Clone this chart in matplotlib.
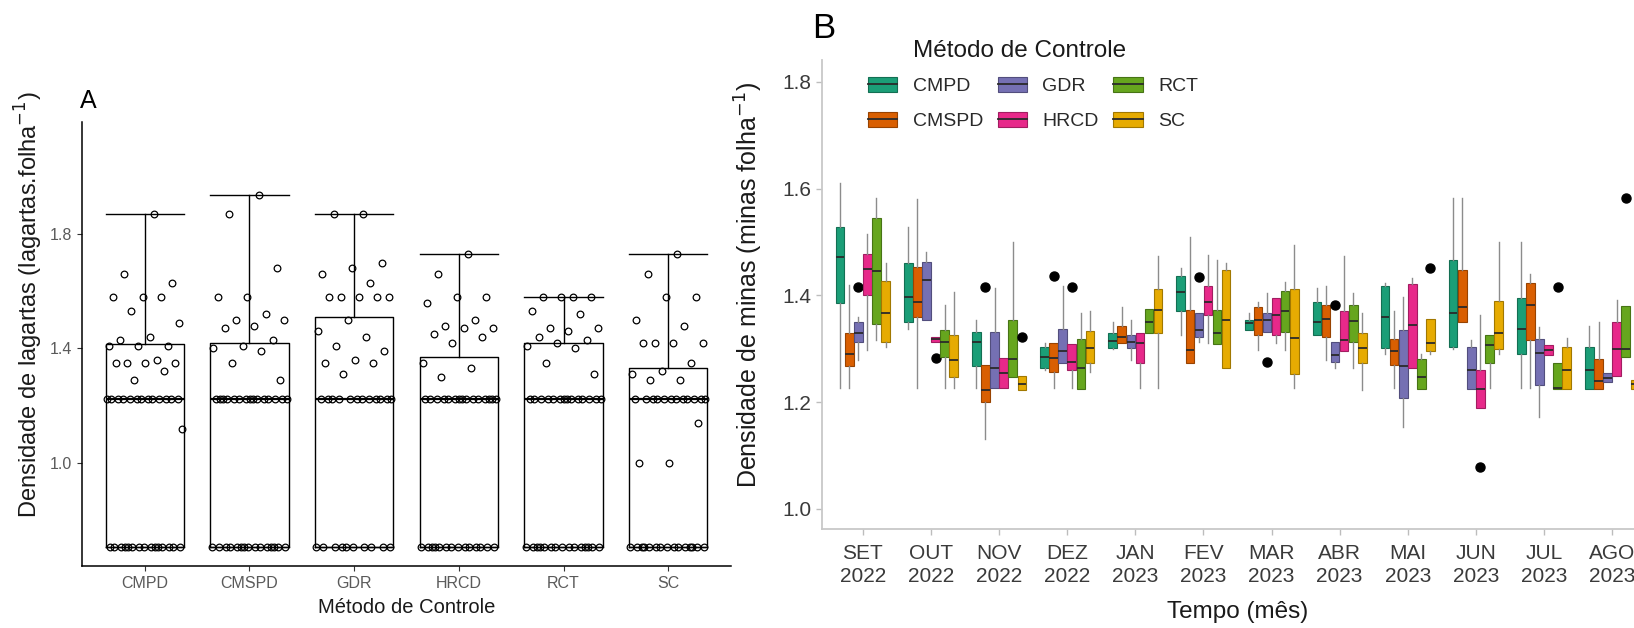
import numpy as np
import matplotlib
matplotlib.use("Agg")
import matplotlib.pyplot as plt
from matplotlib.patches import Patch
from matplotlib.lines import Line2D
from matplotlib.colors import to_rgb

plt.rcParams['font.family'] = ['Liberation Sans', 'DejaVu Sans']

# ---------------- painel A: densidade de lagartas ----------------
metodos = ["CMPD", "CMSPD", "GDR", "HRCD", "RCT", "SC"]
a_q1 = [0.707, 0.707, 0.707, 0.707, 0.707, 0.707]
a_med = [1.2247, 1.2247, 1.2247, 1.2247, 1.2247, 1.2247]
a_q3 = [1.414, 1.42, 1.51, 1.37, 1.42, 1.33]
a_max = [1.87, 1.936, 1.87, 1.73, 1.58, 1.73]

pts_cmpd = [1.87, 1.66, 1.63, 1.58, 1.58, 1.58, 1.53, 1.49, 1.44, 1.43, 1.41, 1.41, 1.41,
            1.36, 1.35, 1.35, 1.35, 1.35, 1.32, 1.29, 1.12] + [1.2247] * 13 + [0.707] * 15
pts_cmspd = [1.936, 1.87, 1.68, 1.58, 1.58, 1.52, 1.50, 1.50, 1.48, 1.47, 1.43, 1.41,
             1.40, 1.39, 1.35, 1.29] + [1.2247] * 15 + [0.707] * 15
pts_gdr = [1.87, 1.87, 1.70, 1.68, 1.66, 1.63, 1.58, 1.58, 1.58, 1.58, 1.58, 1.50, 1.46,
           1.44, 1.41, 1.39, 1.36, 1.35, 1.35, 1.31] + [1.2247] * 12 + [0.707] * 10
pts_hrcd = [1.73, 1.66, 1.58, 1.58, 1.56, 1.50, 1.48, 1.47, 1.47, 1.45, 1.44, 1.42, 1.35,
            1.33, 1.30] + [1.2247] * 15 + [0.707] * 14
pts_rct = [1.58, 1.58, 1.58, 1.58, 1.53, 1.52, 1.47, 1.47, 1.46, 1.44, 1.43, 1.42, 1.41,
           1.40, 1.35, 1.31] + [1.2247] * 14 + [0.707] * 15
pts_sc = [1.73, 1.66, 1.58, 1.58, 1.50, 1.48, 1.42, 1.42, 1.42, 1.42, 1.35, 1.32, 1.31,
          1.29, 1.29, 1.14, 1.00, 1.00] + [1.2247] * 12 + [0.707] * 15
a_pontos = [pts_cmpd, pts_cmspd, pts_gdr, pts_hrcd, pts_rct, pts_sc]

# ---------------- painel B: densidade de minas por mes ----------------
meses = ["SET\n2022", "OUT\n2022", "NOV\n2022", "DEZ\n2022", "JAN\n2023", "FEV\n2023",
         "MAR\n2023", "ABR\n2023", "MAI\n2023", "JUN\n2023", "JUL\n2023", "AGO\n2023"]
cores = ["#1B9E77", "#D95F02", "#7570B3", "#E7298A", "#66A61E", "#E6AB02"]

# (whislo, q1, med, q3, whishi) por mes
b_cmpd = [(1.226, 1.385, 1.472, 1.529, 1.610), (1.338, 1.351, 1.398, 1.460, 1.529),
          (1.226, 1.268, 1.313, 1.332, 1.354), (1.260, 1.265, 1.284, 1.304, 1.310),
          (1.300, 1.302, 1.315, 1.329, 1.351), (1.326, 1.370, 1.407, 1.437, 1.451),
          (1.335, 1.335, 1.348, 1.354, 1.367), (1.325, 1.325, 1.351, 1.387, 1.414),
          (1.290, 1.301, 1.359, 1.418, 1.423), (1.300, 1.304, 1.367, 1.467, 1.582),
          (1.226, 1.290, 1.337, 1.395, 1.501), (1.224, 1.224, 1.260, 1.303, 1.342)]
b_cmspd = [(1.226, 1.267, 1.290, 1.330, 1.420), (1.226, 1.360, 1.388, 1.454, 1.580),
           (1.132, 1.201, 1.223, 1.270, 1.270), (1.226, 1.257, 1.282, 1.310, 1.310),
           (1.310, 1.310, 1.323, 1.343, 1.379), (1.273, 1.273, 1.298, 1.372, 1.510),
           (1.298, 1.326, 1.354, 1.378, 1.388), (1.279, 1.323, 1.355, 1.382, 1.417),
           (1.226, 1.270, 1.295, 1.318, 1.370), (1.351, 1.351, 1.379, 1.447, 1.582),
           (1.226, 1.317, 1.382, 1.423, 1.441), (1.224, 1.224, 1.240, 1.280, 1.351)]
b_gdr = [(1.279, 1.313, 1.329, 1.351, 1.360), (1.354, 1.354, 1.429, 1.463, 1.482),
         (1.226, 1.226, 1.265, 1.332, 1.413), (1.273, 1.273, 1.295, 1.337, 1.417),
         (1.279, 1.301, 1.313, 1.326, 1.354), (1.313, 1.323, 1.335, 1.367, 1.367),
         (1.332, 1.332, 1.354, 1.367, 1.404), (1.264, 1.276, 1.289, 1.313, 1.313),
         (1.154, 1.207, 1.268, 1.335, 1.398), (1.224, 1.224, 1.260, 1.304, 1.317),
         (1.173, 1.232, 1.292, 1.318, 1.340), (1.238, 1.238, 1.245, 1.255, 1.255)]
b_hrcd = [(1.298, 1.401, 1.450, 1.478, 1.516), (1.313, 1.313, 1.318, 1.323, 1.323),
          (1.226, 1.226, 1.255, 1.282, 1.282), (1.226, 1.260, 1.276, 1.309, 1.309),
          (1.226, 1.273, 1.310, 1.329, 1.329), (1.310, 1.364, 1.388, 1.417, 1.476),
          (1.310, 1.326, 1.364, 1.396, 1.396), (1.295, 1.295, 1.317, 1.370, 1.473),
          (1.264, 1.264, 1.345, 1.421, 1.432), (1.189, 1.189, 1.224, 1.260, 1.364),
          (1.289, 1.289, 1.298, 1.307, 1.307), (1.249, 1.249, 1.299, 1.351, 1.392)]
b_rct = [(1.317, 1.347, 1.445, 1.545, 1.582), (1.226, 1.284, 1.313, 1.335, 1.382),
         (1.248, 1.248, 1.280, 1.354, 1.501), (1.224, 1.224, 1.264, 1.318, 1.367),
         (1.329, 1.329, 1.351, 1.374, 1.374), (1.309, 1.309, 1.329, 1.373, 1.467),
         (1.298, 1.332, 1.370, 1.408, 1.426), (1.265, 1.312, 1.353, 1.382, 1.404),
         (1.224, 1.224, 1.248, 1.280, 1.290), (1.226, 1.274, 1.307, 1.326, 1.326),
         (1.224, 1.224, 1.226, 1.273, 1.273), (1.284, 1.284, 1.299, 1.380, 1.380)]
b_sc = [(1.304, 1.312, 1.367, 1.427, 1.460), (1.226, 1.248, 1.279, 1.326, 1.407),
        (1.223, 1.223, 1.235, 1.249, 1.249), (1.257, 1.273, 1.301, 1.334, 1.370),
        (1.226, 1.329, 1.373, 1.412, 1.473), (1.264, 1.264, 1.354, 1.447, 1.460),
        (1.226, 1.253, 1.321, 1.412, 1.495), (1.223, 1.274, 1.301, 1.329, 1.367),
        (1.290, 1.295, 1.310, 1.355, 1.355), (1.290, 1.300, 1.329, 1.390, 1.501),
        (1.224, 1.224, 1.260, 1.304, 1.320), (1.224, 1.224, 1.235, 1.242, 1.242)]
b_stats = [b_cmpd, b_cmspd, b_gdr, b_hrcd, b_rct, b_sc]

out_metodo = ["GDR", "HRCD", "CMSPD", "SC", "CMSPD", "HRCD", "GDR", "GDR", "GDR", "SC", "HRCD", "RCT", "RCT"]
out_mes = [0, 1, 2, 2, 3, 3, 5, 6, 7, 8, 9, 10, 11]
out_valor = [1.415, 1.282, 1.415, 1.323, 1.437, 1.415, 1.435, 1.275, 1.383, 1.451, 1.079, 1.415, 1.582]


def escurecer(c, f=0.7):
    r, g, b = to_rgb(c)
    return (r * f, g * f, b * f)


fig = plt.figure(figsize=(16.34, 6.28), dpi=100)
W, H = 1634, 628

# ---------- A ----------
axA = fig.add_axes([82 / W, (H - 566) / H, (731 - 82) / W, (566 - 122) / H])
statsA = []
for i in range(len(metodos)):
    statsA.append(dict(whislo=a_q1[i], q1=a_q1[i], med=a_med[i], q3=a_q3[i],
                       whishi=a_max[i], fliers=[]))
axA.bxp(statsA, positions=range(len(metodos)), widths=0.75, capwidths=0.75,
        showfliers=False, manage_ticks=False,
        boxprops=dict(color="black", lw=1.0), whiskerprops=dict(color="black", lw=1.0),
        capprops=dict(color="black", lw=1.0), medianprops=dict(color="black", lw=1.6))
for i, pts in enumerate(a_pontos):
    k = np.arange(len(pts)) + 1
    dx = ((k * 0.6180339887) % 1 - 0.5) * 0.74
    axA.plot(i + dx, pts, "o", mfc="none", mec="black", ms=4.8, mew=0.9, zorder=3)

axA.set_xlim(-0.6, 5.6)
axA.set_ylim(0.640, 2.191)
axA.set_yticks([1.0, 1.4, 1.8])
axA.set_xticks(range(len(metodos)))
axA.set_xticklabels(metodos)
axA.tick_params(labelsize=11.5, labelcolor="#5a5a5a", color="#333333", length=3.5, width=0.8)
for s in ["top", "right"]:
    axA.spines[s].set_visible(False)
for s in ["left", "bottom"]:
    axA.spines[s].set_linewidth(1.1)
axA.set_xlabel("Método de Controle", fontsize=14.5, color="#1a1a1a", labelpad=5)
axA.set_ylabel("Densidade de lagartas (lagartas.folha$^{-1}$)", fontsize=17, color="#1a1a1a")
axA.yaxis.set_label_coords(-0.057, 0.588)
fig.text(80 / W, 1 - 108 / H, "A", fontsize=18, va="baseline", ha="left")

# ---------- B ----------
axB = fig.add_axes([822 / W, (H - 529) / H, (1653 - 822) / W, (529 - 60) / H])
n_met = len(metodos)
for j in range(n_met):
    st = []
    for m in range(len(meses)):
        lo, q1, med, q3, hi = b_stats[j][m]
        fl = [v for v, mm, mt in zip(out_valor, out_mes, out_metodo) if mm == m and mt == metodos[j]]
        st.append(dict(whislo=lo, q1=q1, med=med, q3=q3, whishi=hi, fliers=fl))
    pos = np.arange(len(meses)) + (j - (n_met - 1) / 2) * 0.8 / n_met
    axB.bxp(st, positions=pos, widths=0.125, patch_artist=True, showcaps=False,
            manage_ticks=False,
            boxprops=dict(facecolor=cores[j], edgecolor=escurecer(cores[j]), lw=0.8),
            whiskerprops=dict(color="#8c8c8c", lw=1.0),
            medianprops=dict(color="#2a2a2a", lw=1.3),
            flierprops=dict(marker="o", mfc="black", mec="black", ms=6.5))

axB.set_xlim(-0.6, 11.6)
axB.set_ylim(0.9625, 1.841)
axB.set_yticks([1.0, 1.2, 1.4, 1.6, 1.8])
axB.set_xticks(range(len(meses)))
axB.set_xticklabels(meses, linespacing=1.25)
axB.tick_params(labelsize=15, labelcolor="#3a3a3a", color="#bdbdbd", length=4, width=1.0)
axB.tick_params(axis="x", pad=7)
for s in ["top", "right"]:
    axB.spines[s].set_visible(False)
for s in ["left", "bottom"]:
    axB.spines[s].set_color("#c8c8c8")
    axB.spines[s].set_linewidth(1.3)
axB.set_xlabel("Tempo (mês)", fontsize=17.5, color="#1a1a1a", labelpad=11)
axB.set_ylabel("Densidade de minas (minas folha$^{-1}$)", fontsize=18, color="#1a1a1a")
axB.yaxis.set_label_coords(-0.069, 0.52)
fig.text(812 / W, 1 - 38 / H, "B", fontsize=25, va="baseline", ha="left")

# legenda (titulo separado para controlar o espaçamento)
fig.text(1020 / W, 1 - 57 / H, "Método de Controle", fontsize=17.5, color="#1a1a1a",
         ha="center", va="baseline")
handles = [(Patch(facecolor=c, edgecolor=escurecer(c), lw=0.8), Line2D([], [], color="#2a2a2a", lw=1.3))
           for c in cores]
leg = axB.legend(handles, metodos, ncol=3, frameon=False,
                 loc="upper left", bbox_to_anchor=(868 / W, 1 - 77 / H),
                 bbox_transform=fig.transFigure, borderpad=0, borderaxespad=0,
                 fontsize=14, handlelength=1.5, handleheight=0.8,
                 handletextpad=0.8, columnspacing=0.75, labelspacing=0.85)
for t in leg.get_texts():
    t.set_color("#2a2a2a")

fig.savefig("out.png", dpi=100, facecolor="white")
